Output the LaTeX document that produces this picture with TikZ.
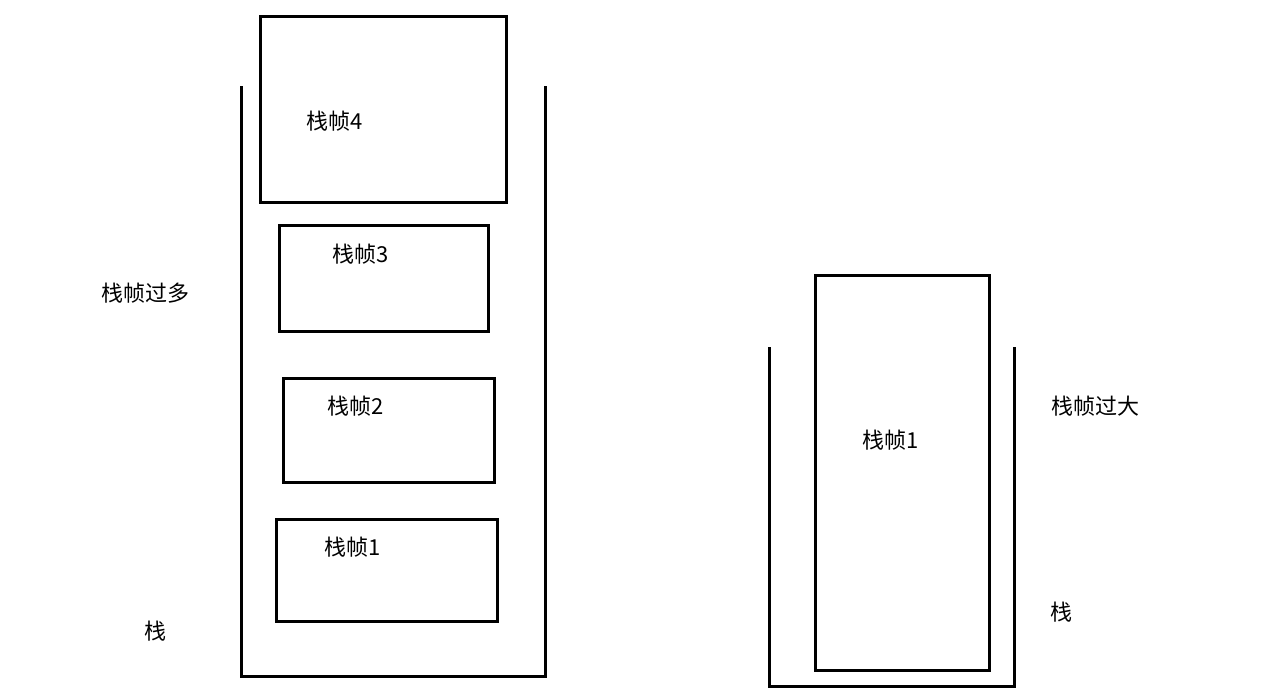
\documentclass[tikz,border=0pt]{standalone}
\usepackage{fontspec}
\setmainfont{Noto Sans CJK SC}
\begin{document}
\begin{tikzpicture}[x=1pt,y=-1pt,
  frame/.style={draw=black,line width=3pt},
  lbl/.style={font=\fontsize{22}{26}\selectfont,inner sep=0pt}]
\useasboundingbox (0,0) rectangle (1280,694);
% left stack
\draw[frame] (241,86) -- (241,676) -- (545,676) -- (545,86);
\node[frame,minimum width=246,minimum height=186,anchor=north west] (f4) at (259,15) {};
\node[frame,minimum width=209,minimum height=106,anchor=north west] (f3) at (278,224) {};
\node[frame,minimum width=211,minimum height=104,anchor=north west] (f2) at (282,377) {};
\node[frame,minimum width=221,minimum height=102,anchor=north west] (f1) at (275,518) {};
\node[lbl] (t4) at (335,121) {栈帧4};
\node[lbl] (t3) at (361,254) {栈帧3};
\node[lbl] (t2) at (356,406) {栈帧2};
\node[lbl] (t1) at (353,547) {栈帧1};
\node[lbl] (many) at (145,293) {栈帧过多};
\node[lbl] (s1) at (155,631) {栈};
% right stack
\draw[frame] (769,347) -- (769,686) -- (1014,686) -- (1014,347);
\node[frame,minimum width=174,minimum height=395,anchor=north west] (big) at (814,274) {};
\node[lbl] (tb) at (891,440) {栈帧1};
\node[lbl] (large) at (1095,406) {栈帧过大};
\node[lbl] (s2) at (1061,612) {栈};
\end{tikzpicture}
\end{document}
